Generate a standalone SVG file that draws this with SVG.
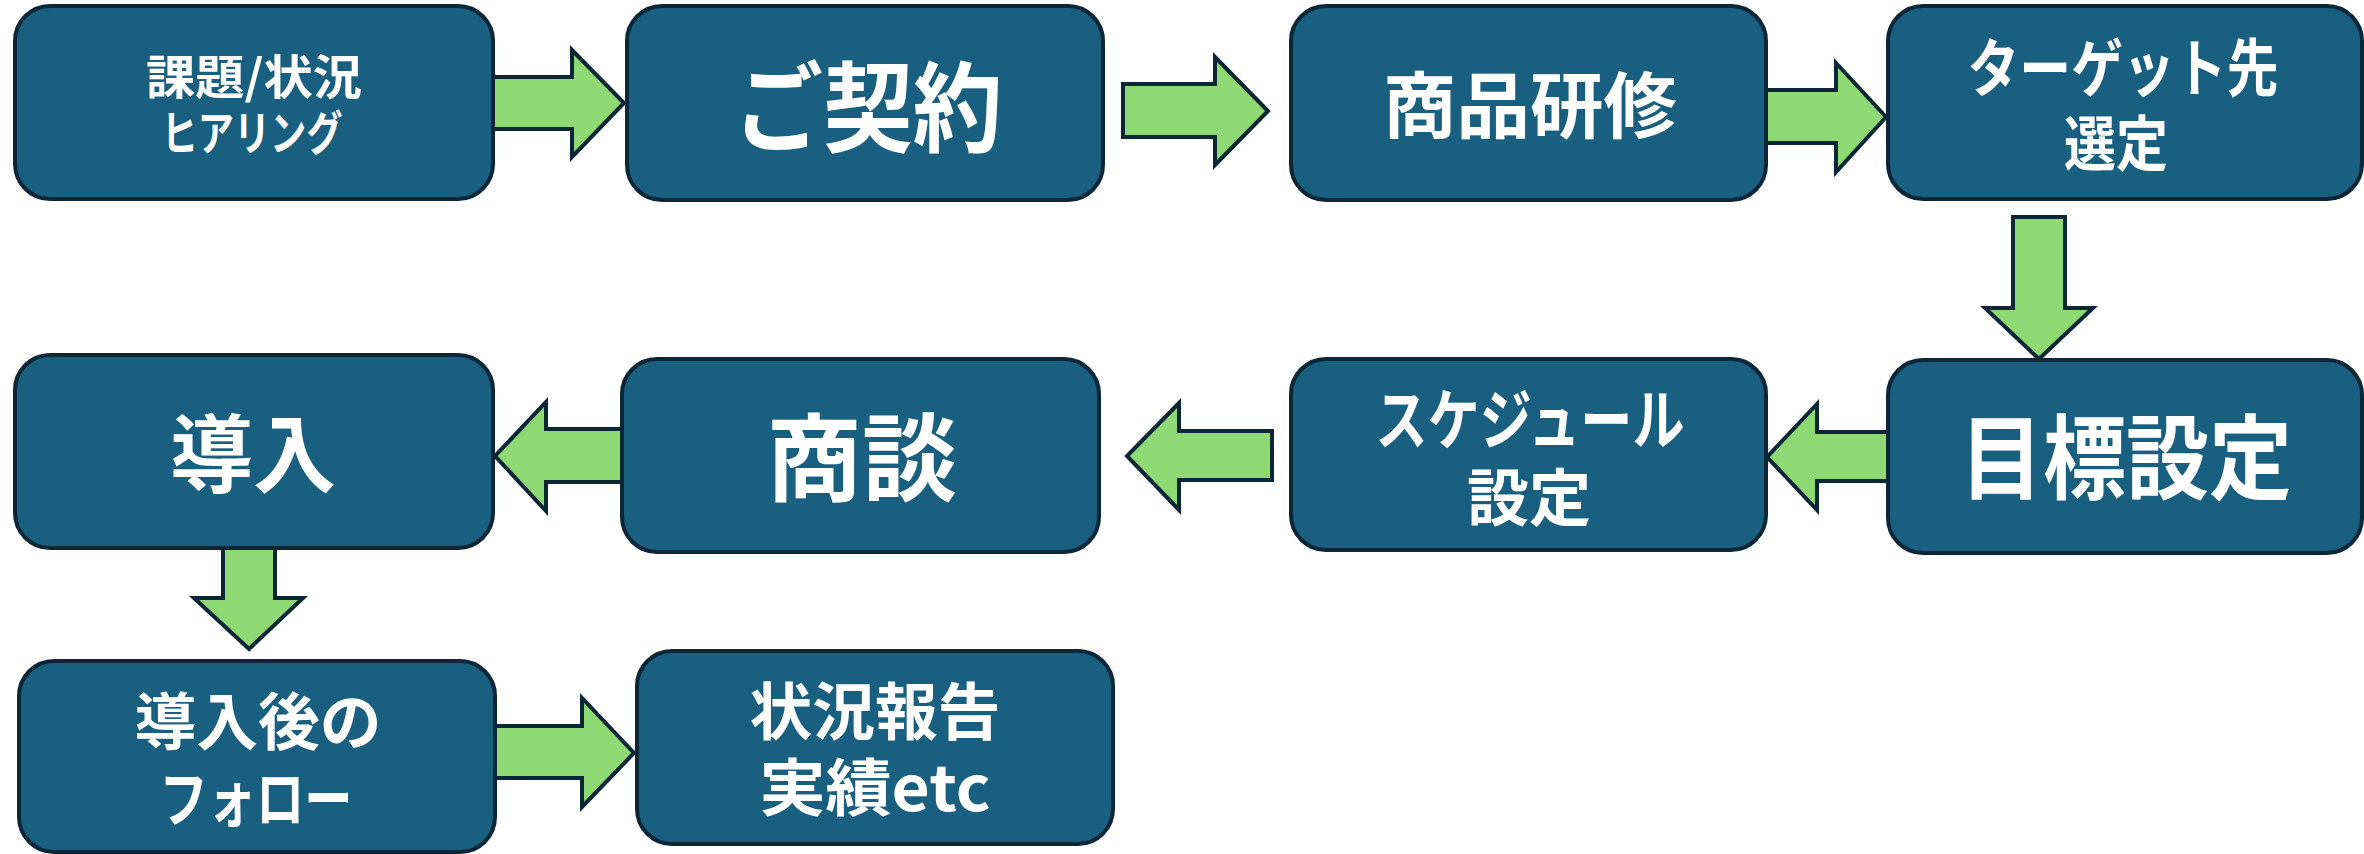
<svg xmlns="http://www.w3.org/2000/svg" width="2364" height="854" viewBox="0 0 2364 854">
<style>
.box{fill:#185f80;stroke:#0b2637;stroke-width:4}
.arr{fill:#8fd974;stroke:#0b2637;stroke-width:4;stroke-linejoin:miter}
.t{fill:#ffffff;font-family:"Noto Sans CJK JP","Noto Sans CJK SC",sans-serif;font-weight:700;text-anchor:middle}
</style>
<rect width="2364" height="854" fill="#ffffff"/>
<g id="connectors">
<polygon class="arr" points="493,77 572,77 572,50 624,103 572,157 572,129 493,129"/>
<polygon class="arr" points="1123,84 1215,84 1215,57 1268,111 1215,165 1215,137 1123,137"/>
<polygon class="arr" points="1766,90 1836,90 1836,63 1886,117 1836,172 1836,143 1766,143"/>
<polygon class="arr" points="2013,217 2065,217 2065,308 2093,308 2039,359 1985,308 2013,308"/>
<polygon class="arr" points="1888,432 1817,432 1817,404 1767,457 1817,510 1817,481 1888,481"/>
<polygon class="arr" points="1272,431 1179,431 1179,403 1127,456 1179,510 1179,480 1272,480"/>
<polygon class="arr" points="622,429 546,429 546,402 495,456 546,511 546,482 622,482"/>
<polygon class="arr" points="223,548 275,548 275,598 303,598 249,649 194,598 223,598"/>
<polygon class="arr" points="495,726 582,726 582,698 634,753 582,807 582,778 495,778"/>
</g>
<g id="n1">
<rect class="box" x="15" y="6" width="478" height="193" rx="35"/>
<text class="t" x="254" y="94" font-size="47" textLength="216" lengthAdjust="spacingAndGlyphs">課題/状況</text>
<text class="t" x="252" y="150" font-size="47" textLength="181" lengthAdjust="spacingAndGlyphs">ヒアリング</text>
</g>
<g id="n2">
<rect class="box" x="627" y="6" width="476" height="194" rx="35"/>
<text class="t" x="868" y="144" font-size="98" textLength="269" lengthAdjust="spacingAndGlyphs">ご契約</text>
</g>
<g id="n3">
<rect class="box" x="1291" y="6" width="475" height="194" rx="35"/>
<text class="t" x="1530" y="132" font-size="72" textLength="294" lengthAdjust="spacingAndGlyphs">商品研修</text>
</g>
<g id="n4">
<rect class="box" x="1888" y="6" width="474" height="193" rx="35"/>
<text class="t" x="2123" y="91" font-size="63" textLength="311" lengthAdjust="spacingAndGlyphs">ターゲット先</text>
<text class="t" x="2116" y="166" font-size="60" textLength="104" lengthAdjust="spacingAndGlyphs">選定</text>
</g>
<g id="n5">
<rect class="box" x="1888" y="360" width="474" height="193" rx="35"/>
<text class="t" x="2126" y="492" font-size="92" textLength="332" lengthAdjust="spacingAndGlyphs">目標設定</text>
</g>
<g id="n6">
<rect class="box" x="1291" y="359" width="475" height="191" rx="35"/>
<text class="t" x="1530" y="444" font-size="66" textLength="309" lengthAdjust="spacingAndGlyphs">スケジュール</text>
<text class="t" x="1529" y="521" font-size="62" textLength="124" lengthAdjust="spacingAndGlyphs">設定</text>
</g>
<g id="n7">
<rect class="box" x="622" y="359" width="477" height="193" rx="35"/>
<text class="t" x="862" y="494" font-size="95" textLength="191" lengthAdjust="spacingAndGlyphs">商談</text>
</g>
<g id="n8">
<rect class="box" x="15" y="355" width="478" height="193" rx="35"/>
<text class="t" x="253" y="486" font-size="85" textLength="166" lengthAdjust="spacingAndGlyphs">導入</text>
</g>
<g id="n9">
<rect class="box" x="19" y="661" width="476" height="191" rx="35"/>
<text class="t" x="258" y="745" font-size="62" textLength="247" lengthAdjust="spacingAndGlyphs">導入後の</text>
<text class="t" x="256" y="822" font-size="62" textLength="193" lengthAdjust="spacingAndGlyphs">フォロー</text>
</g>
<g id="n10">
<rect class="box" x="637" y="651" width="476" height="193" rx="35"/>
<text class="t" x="875" y="735" font-size="62" textLength="251" lengthAdjust="spacingAndGlyphs">状況報告</text>
<text class="t" x="875" y="811" font-size="62" textLength="231" lengthAdjust="spacingAndGlyphs">実績etc</text>
</g>
</svg>
